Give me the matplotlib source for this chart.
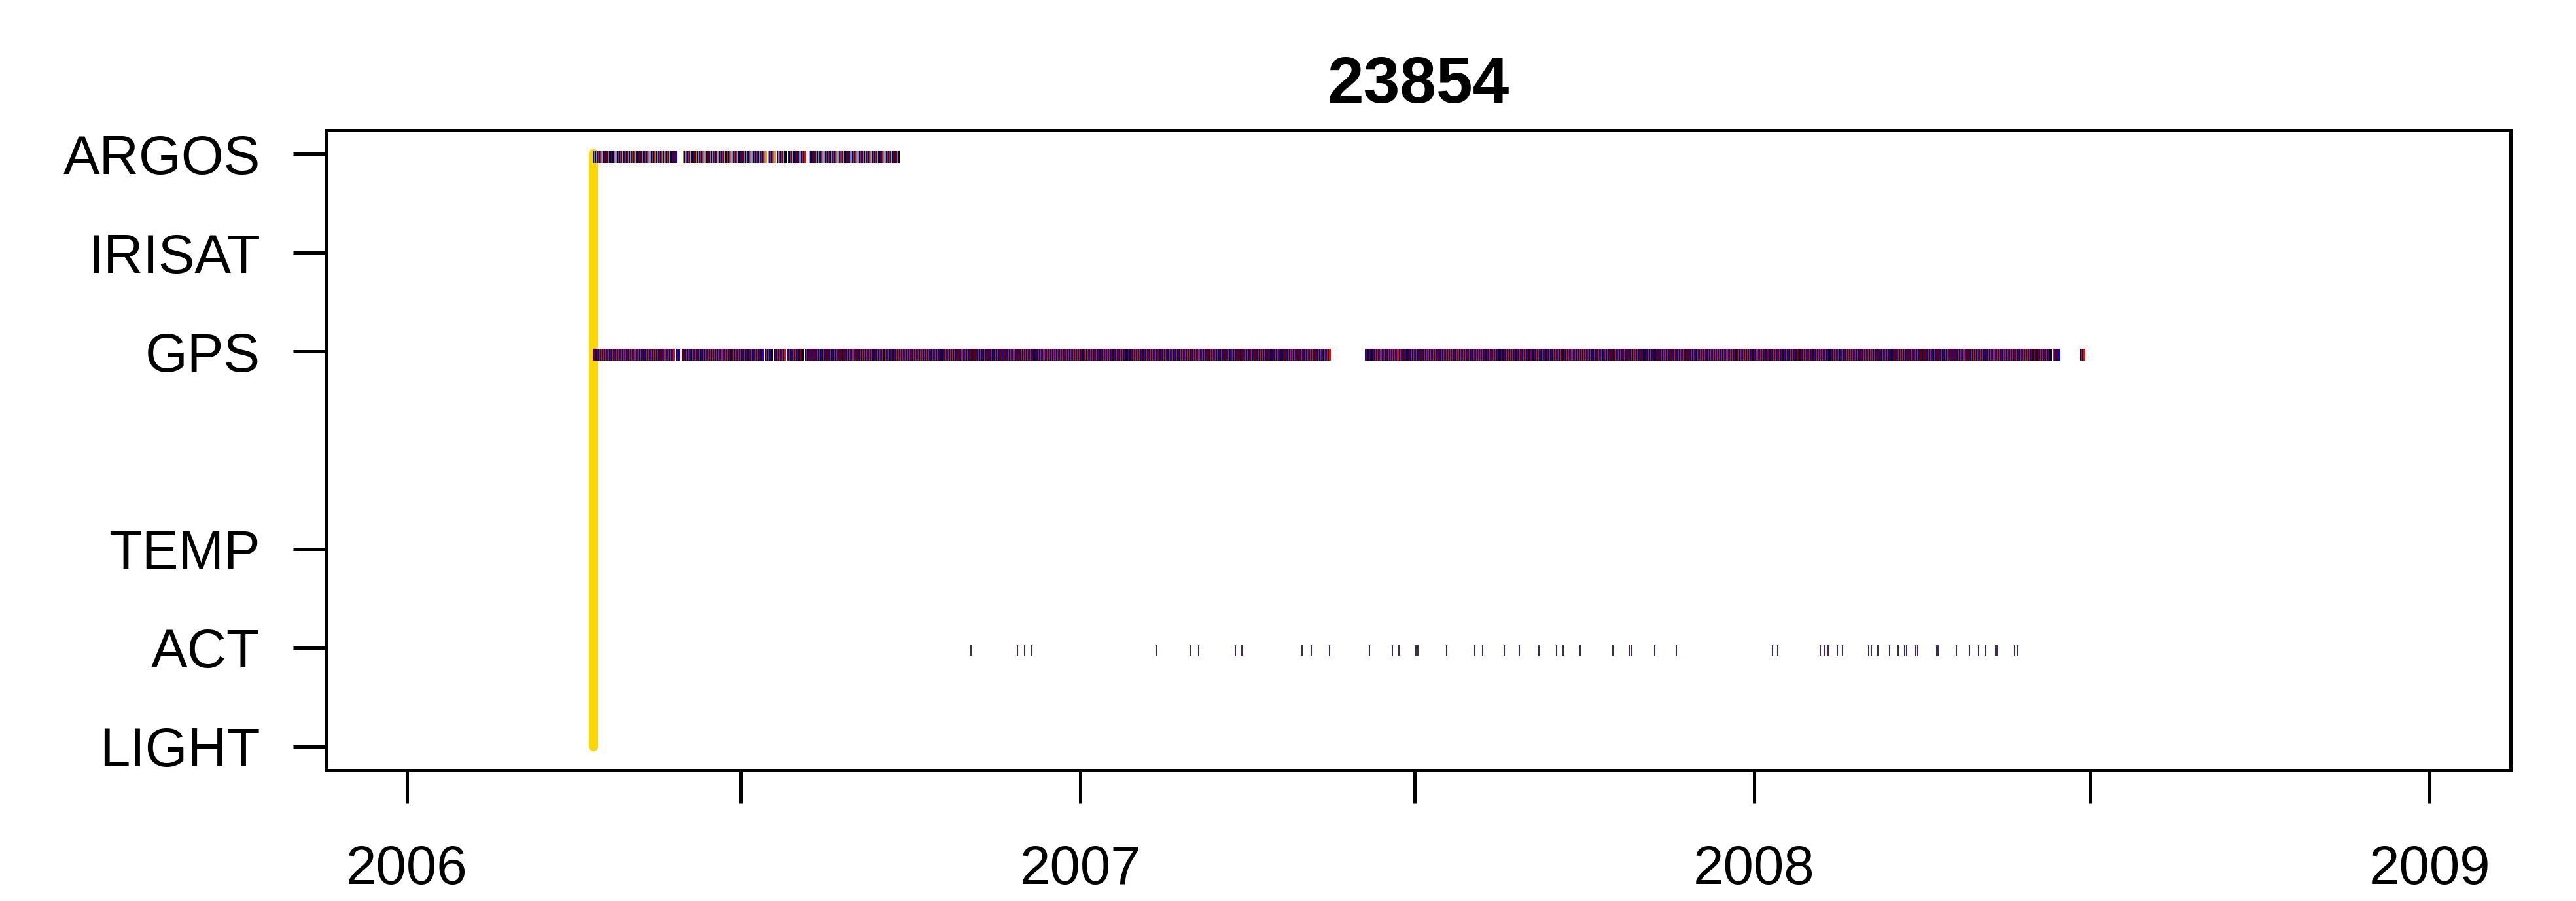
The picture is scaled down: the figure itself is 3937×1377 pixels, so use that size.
import numpy as np
import matplotlib
matplotlib.use("Agg")
import matplotlib.pyplot as plt
import matplotlib.dates as mdates

plt.rcParams['font.family'] = ['Liberation Sans', 'DejaVu Sans']

# channels on the y axis (row 3 is left empty)
channels = ['LIGHT', 'ACT', 'TEMP', 'GPS', 'IRISAT', 'ARGOS']
channel_y = [0, 1, 2, 4, 5, 6]

# all times are days since 2006-01-01
deploy_day = 101

# continuous runs of fixes (start, end)
argos_runs = [(101, 146), (150, 194.5), (196, 199.5), (201, 205.5), (207, 216), (218, 267)]
gps_runs = [(101, 144.5), (146, 148), (149.5, 193), (194.4, 198), (199.4, 202.5),
            (203, 205), (206.4, 215), (216.4, 258.5), (259.6, 500), (519.5, 537),
            (538, 891), (892.5, 895.2), (907, 909)]
fix_step = 1 / 3  # one fix every 8 h inside a run

act_days = [305.8, 330.9, 334.7, 338.7, 405.9, 424.5, 429.1, 448.8, 452.5, 484.9,
            489.9, 499.9, 521.7, 533.9, 537.7, 546.9, 547.8, 563.4, 578.6, 582.9,
            594.5, 602.7, 613.3, 622.9, 626.4, 635.6, 653.3, 662.2, 663.9, 676.3,
            688.0, 739.8, 742.8, 765.8, 767.8, 769.6, 770.4, 774.9, 777.8, 791.9,
            793.6, 796.9, 803.5, 807.9, 811.6, 812.7, 817.6, 818.7, 828.8, 829.6,
            839.7, 846.8, 851.7, 855.7, 860.7, 861.5, 871.0, 872.6]

gps_colors = ['red', 'blue', 'black', 'blue', 'red', 'black', 'black']
argos_colors = ['black', 'red', 'blue', 'grey', 'darkorange', 'black', 'deepskyblue',
                'black', 'blue', 'red', 'black']

t0 = mdates.date2num(np.datetime64('2006-01-01'))
t_end = mdates.date2num(np.datetime64('2009-01-01'))

fig = plt.figure(figsize=(3937 / 300, 1377 / 300), dpi=300)
ax = fig.add_axes([498 / 3937, 1 - 1177 / 1377, 3339 / 3937, 978 / 1377])

h = 0.056
off = -0.03


def draw_runs(runs, yv, colors):
    xs = np.concatenate([np.arange(a, b, fix_step) for a, b in runs])
    cols = [colors[i % len(colors)] for i in range(len(xs))]
    ax.vlines(t0 + xs, yv + off - h, yv + off + h, colors=cols, linewidth=0.3,
              antialiased=False)


draw_runs(argos_runs, 6, argos_colors)
draw_runs(gps_runs, 4, gps_colors)
ax.vlines(t0 + np.array(act_days), 1 + off - h, 1 + off + h, colors='#3a2f45', linewidth=0.5)

# deployment line
ax.plot([t0 + deploy_day, t0 + deploy_day], [0, 6], color='#FFD700', linewidth=3.4,
        solid_capstyle='round', zorder=1)

span = t_end - t0
ax.set_xlim(t0 - 0.04 * span, t_end + 0.04 * span)
ax.set_ylim(-0.24, 6.24)

xt, xl = [], []
for yr in range(2006, 2010):
    xt.append(mdates.date2num(np.datetime64(f'{yr}-01-01')))
    xl.append(str(yr))
    if yr < 2009:
        xt.append(mdates.date2num(np.datetime64(f'{yr}-07-01')))
        xl.append('')
ax.set_xticks(xt)
ax.set_xticklabels(xl)
ax.set_yticks(channel_y)
ax.set_yticklabels(channels)

ax.tick_params(axis='both', direction='out', length=12, width=1.2, labelsize=20)
ax.tick_params(axis='x', pad=15)
ax.tick_params(axis='y', pad=12)
for s in ax.spines.values():
    s.set_linewidth(1.2)

ax.set_title('23854', fontsize=24, fontweight='bold', pad=10)

fig.savefig('out.png', dpi=300)
